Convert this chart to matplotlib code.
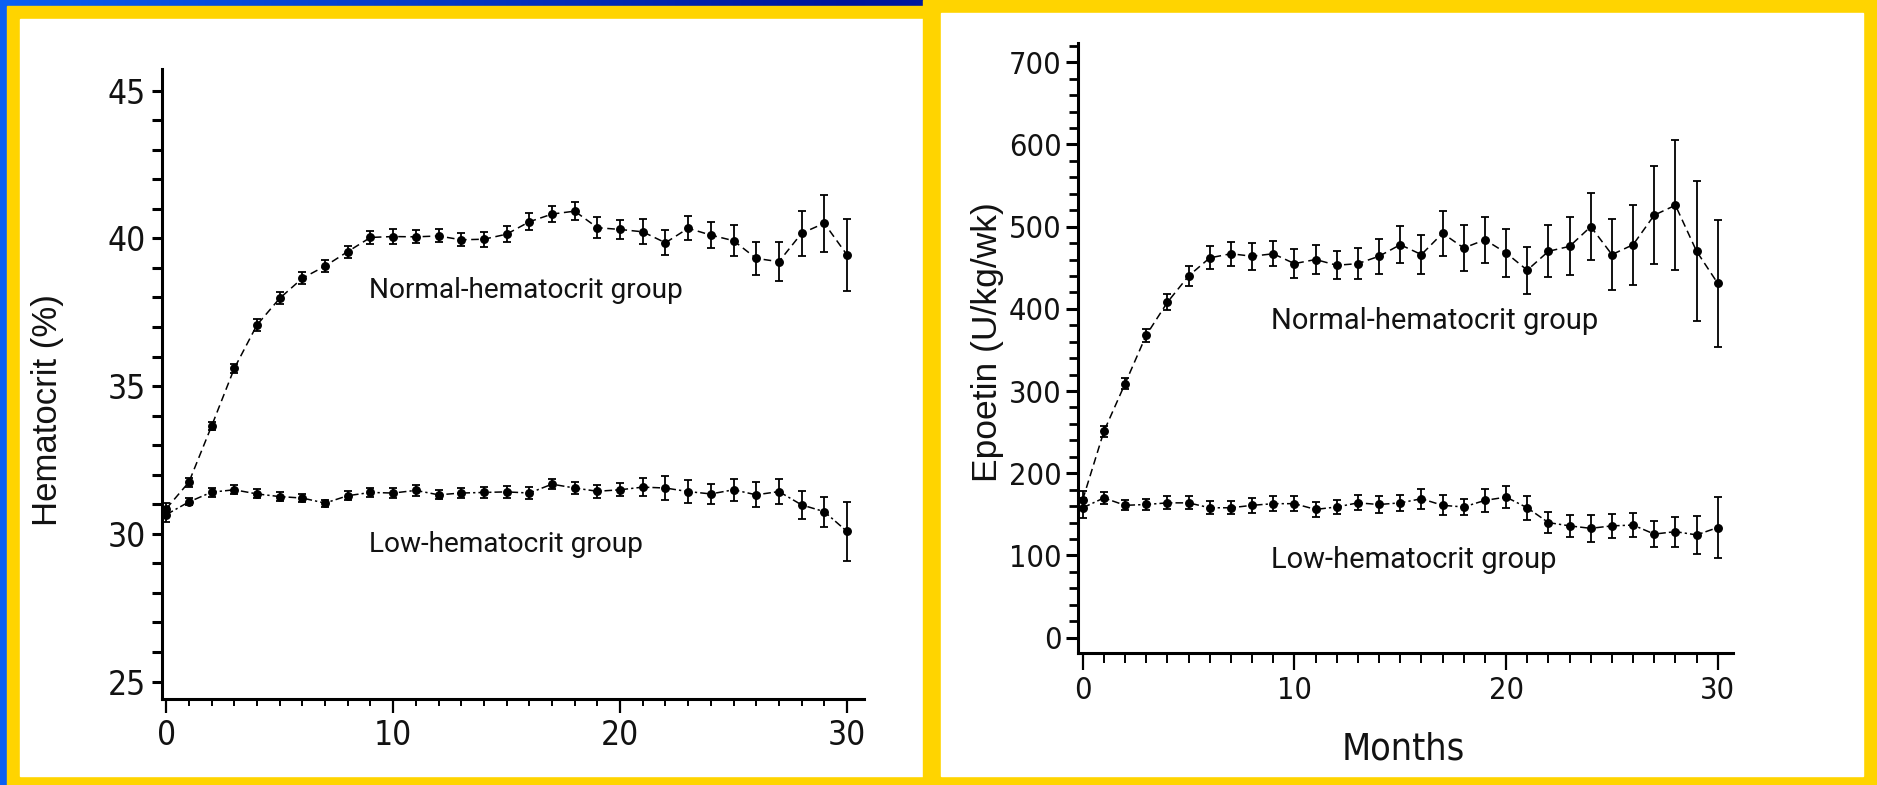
import numpy as np
import matplotlib

matplotlib.use("Agg")
import matplotlib.pyplot as plt
from matplotlib.colors import LinearSegmentedColormap
from matplotlib.patches import Rectangle
from matplotlib.ticker import MultipleLocator

# --- data ------------------------------------------------------------------
months = list(range(31))

hct_normal = [30.85, 31.75, 33.65, 35.6, 37.07, 37.97, 38.65, 39.06, 39.55, 40.03,
              40.06, 40.05, 40.08, 39.95, 39.97, 40.14, 40.56, 40.82, 40.92, 40.36,
              40.30, 40.22, 39.85, 40.34, 40.11, 39.92, 39.32, 39.21, 40.17, 40.51, 39.44]
hct_normal_err = [0.2, 0.15, 0.15, 0.15, 0.2, 0.2, 0.2, 0.2, 0.2, 0.22,
                  0.25, 0.22, 0.22, 0.22, 0.25, 0.28, 0.29, 0.28, 0.31, 0.36,
                  0.33, 0.42, 0.43, 0.41, 0.43, 0.52, 0.57, 0.66, 0.76, 0.97, 1.21]
hct_low = [30.65, 31.08, 31.41, 31.49, 31.35, 31.26, 31.21, 31.04, 31.29, 31.40,
           31.38, 31.47, 31.32, 31.38, 31.40, 31.42, 31.38, 31.68, 31.55, 31.44,
           31.49, 31.58, 31.55, 31.43, 31.35, 31.49, 31.32, 31.43, 30.98, 30.75, 30.08]
hct_low_err = [0.25, 0.12, 0.15, 0.15, 0.15, 0.15, 0.15, 0.12, 0.15, 0.15,
               0.18, 0.18, 0.15, 0.18, 0.18, 0.2, 0.2, 0.18, 0.2, 0.22,
               0.22, 0.31, 0.39, 0.38, 0.34, 0.37, 0.42, 0.43, 0.48, 0.51, 1.0]

epo_normal = [168, 251, 309, 368, 408, 440, 462, 467, 464, 467,
              455, 460, 453, 455, 464, 478, 466, 492, 474, 484,
              468, 447, 470, 476, 500, 466, 478, 514, 526, 470, 431]
epo_normal_err = [10, 6.5, 7, 8, 10, 12, 14, 14.6, 16.6, 15.2,
                  17.2, 18.2, 17.2, 19.3, 21.3, 22.3, 23.3, 27.2, 28.4, 27.8,
                  28.8, 28.7, 31.4, 35.3, 41.2, 43.2, 48.7, 59.8, 79, 85.2, 77]
epo_low = [158, 170, 161, 162, 164, 164, 158, 158, 161, 163,
           163, 156, 159, 164, 162, 164, 169, 161, 159, 167,
           171, 158, 140, 136, 133, 136, 137, 126, 129, 125, 134]
epo_low_err = [12, 7, 6, 7, 8, 8, 8, 8, 9, 9,
               9, 9, 9, 9, 10, 10, 12, 12, 10, 13.8,
               13.6, 14.6, 13.2, 13.8, 16.6, 14.8, 14.6, 16.2, 18.2, 23.5, 37.1]

hct_ticks = [25, 30, 35, 40, 45]
epo_ticks = [0, 100, 200, 300, 400, 500, 600, 700]
month_ticks = [0, 10, 20, 30]

NARROW = ["DejaVu Sans"]
SANS = ["Liberation Sans", "DejaVu Sans"]
ROBOTO = ["Roboto", "DejaVu Sans"]
YELLOW = "#ffd400"
INK = "#121212"

W, H = 1877, 785
fig = plt.figure(figsize=(W / 100, H / 100), dpi=100)

# slide background: blue gradient, yellow frames, white panels (pixel coords)
bg = fig.add_axes([0, 0, 1, 1])
bg.set_xlim(0, W)
bg.set_ylim(H, 0)
bg.axis("off")
slide = LinearSegmentedColormap.from_list(
    "slide", [(0, "#0a60f2"), (0.45, "#00159a"), (1, "#0a4ddb")])
bg.imshow(np.linspace(0, 1, 256)[None, :], cmap=slide,
          extent=(0, W, H, 0), aspect="auto")
bg.add_patch(Rectangle((7, 6), 923, 779, color=YELLOW))
bg.add_patch(Rectangle((20, 19), 903, 757, color="white"))
bg.add_patch(Rectangle((923, 0), 954, 785, color=YELLOW))
bg.add_patch(Rectangle((941, 13), 922, 763, color="white"))

ax1 = fig.add_axes([161.7 / W, 1 - 699.3 / H, (864 - 161.7) / W, (699.3 - 69) / H])
ax2 = fig.add_axes([1078.3 / W, 1 - 653.3 / H, (1733 - 1078.3) / W, (653.3 - 43.3) / H])


def draw_group(ax, y, err, dashes):
    ax.errorbar(months, y, yerr=err, fmt="none", ecolor="black",
                elinewidth=1.3, capsize=3, capthick=1.3, zorder=3)
    ax.plot(months, y, color="black", lw=1.1, dashes=dashes,
            marker="o", ms=5.4, mfc="black", mec="black", zorder=4)


def style_axes(ax, tick_size):
    ax.set_facecolor("none")
    for side in ("top", "right"):
        ax.spines[side].set_visible(False)
    for side in ("left", "bottom"):
        ax.spines[side].set_linewidth(2.2)
    ax.tick_params(axis="both", which="both", direction="out", color="black",
                   labelsize=tick_size, labelcolor=INK)
    for lab in ax.get_xticklabels() + ax.get_yticklabels():
        lab.set_family(NARROW)
        lab.set_fontstretch("condensed")


# left: hematocrit
draw_group(ax1, hct_normal, hct_normal_err, (5, 3))
draw_group(ax1, hct_low, hct_low_err, (5, 2, 1.5, 2))
ax1.set_xlim(-0.2, 30.75)
ax1.set_ylim(24.4, 45.73)
ax1.set_yticks(hct_ticks)
ax1.yaxis.set_minor_locator(MultipleLocator(1))
ax1.set_xticks(month_ticks)
ax1.xaxis.set_minor_locator(MultipleLocator(1))
style_axes(ax1, 24)
ax1.tick_params(axis="y", which="both", length=7.5, width=2.2, pad=4)
ax1.tick_params(axis="x", which="major", length=10, width=1.6, pad=4)
ax1.tick_params(axis="x", which="minor", length=5, width=1.4)
ax1.set_ylabel("Hematocrit (%)", fontsize=25, family=SANS, color=INK)
ax1.yaxis.set_label_coords(-0.163, 0.459)
ax1.yaxis.label.set_va("center")
ax1.text(8.94, 38.25, "Normal-hematocrit group", fontsize=20.2, family=ROBOTO,
         color=INK, ha="left", va="center")
ax1.text(8.94, 29.63, "Low-hematocrit group", fontsize=20.2, family=ROBOTO,
         color=INK, ha="left", va="center")

# right: epoetin dose
draw_group(ax2, epo_normal, epo_normal_err, (5, 3))
draw_group(ax2, epo_low, epo_low_err, (5, 2, 1.5, 2))
ax2.set_xlim(-0.21, 30.72)
ax2.set_ylim(-19, 723)
ax2.set_yticks(epo_ticks)
ax2.yaxis.set_minor_locator(MultipleLocator(20))
ax2.set_xticks(month_ticks)
ax2.xaxis.set_minor_locator(MultipleLocator(1))
style_axes(ax2, 22)
ax2.tick_params(axis="y", which="major", length=9, width=2.2, pad=3)
ax2.tick_params(axis="y", which="minor", length=6.5, width=2.0)
ax2.tick_params(axis="x", which="major", length=12, width=1.6, pad=4)
ax2.tick_params(axis="x", which="minor", length=7, width=1.4)
ax2.set_ylabel("Epoetin (U/kg/wk)", fontsize=25.5, family=SANS, color=INK)
ax2.yaxis.set_label_coords(-0.139, 0.51)
ax2.yaxis.label.set_va("center")
ax2.set_xlabel("Months", fontsize=27, family=NARROW, fontstretch="condensed",
               color=INK)
ax2.xaxis.set_label_coords(0.496, -0.1585)
ax2.xaxis.label.set_va("center")
ax2.text(8.9, 385, "Normal-hematocrit group", fontsize=21, family=ROBOTO,
         color=INK, ha="left", va="center")
ax2.text(8.9, 94.5, "Low-hematocrit group", fontsize=21, family=ROBOTO,
         color=INK, ha="left", va="center")

fig.savefig("out.png", dpi=100)
plt.close(fig)
